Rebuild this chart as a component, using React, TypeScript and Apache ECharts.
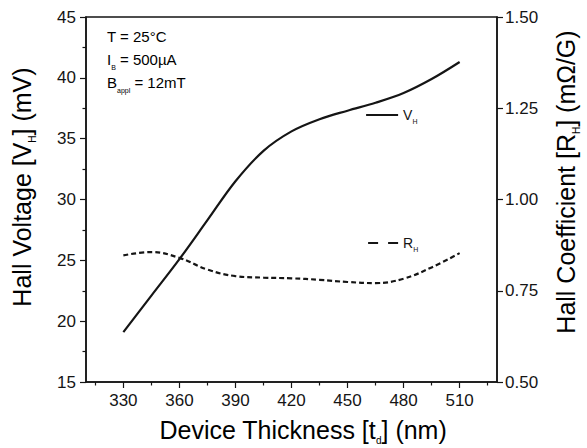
import React, { useEffect, useRef } from "react";
import * as echarts from "echarts";

// ---- data ----
const thickness = [330, 345, 360, 375, 390, 405, 420, 435, 450, 465, 480, 495, 510];
const hallVoltage = [19.1, 22.1, 25.1, 28.3, 31.5, 34.0, 35.6, 36.6, 37.3, 37.95, 38.75, 39.9, 41.3];
const hallCoefficient = [0.847, 0.856, 0.84, 0.808, 0.79, 0.786, 0.784, 0.78, 0.774, 0.771, 0.783, 0.814, 0.853];
const xMajorTicks = [330, 360, 390, 420, 450, 480, 510];
const xMinorTicks = [315, 345, 375, 405, 435, 465, 495, 525];
const conditions = ["T = 25°C", "I|B| = 500µA", "B|appl| = 12mT"];

const FONT = "'Liberation Sans', Arial, sans-serif";
const INK = "#151515";

function subRich(main: number, sub: number, lh: number) {
  return {
    m: { fontSize: main, fontFamily: FONT, color: INK, lineHeight: lh, verticalAlign: "middle" },
    s: { fontSize: sub, fontFamily: FONT, color: INK, lineHeight: lh, verticalAlign: "bottom" },
  };
}

function condText(s: string) {
  const parts = s.split("|");
  if (parts.length === 1) return `{m|${s}}`;
  return `{m|${parts[0]}}{s|${parts[1]}}{m|${parts[2]}}`;
}

export default function App() {
  const ref = useRef<HTMLDivElement>(null);
  useEffect(() => {
    if (!ref.current) return;
    const chart = echarts.init(ref.current, null, { renderer: "svg" });
    const vhData = thickness.map((t, i) => [t, hallVoltage[i]]);
    const rhData = thickness.map((t, i) => [t, hallCoefficient[i]]);
    const axisLine = { show: true, lineStyle: { color: INK, width: 1.5 } };
    const legendCommon = {
      orient: "horizontal",
      itemWidth: 32,
      itemHeight: 14,
      itemGap: 4,
      formatter: (n: string) => (n === "VH" ? "{m|V}{s|H}" : "{m|R}{s|H}"),
      textStyle: { rich: subRich(14, 7, 20) },
      itemStyle: { opacity: 0 },
    };
    chart.setOption({
      animation: false,
      grid: { left: 86, right: 90, top: 17, bottom: 66, show: true, borderColor: INK, borderWidth: 1.5 },
      xAxis: [
        {
          type: "value",
          position: "bottom",
          min: 310,
          max: 530,
          axisLine,
          axisTick: { show: true, inside: false, length: 6, customValues: xMajorTicks, lineStyle: { color: INK, width: 1.2 } },
          axisLabel: { customValues: xMajorTicks, fontSize: 17, fontFamily: FONT, color: INK, margin: 10 },
          splitLine: { show: false },
        },
        {
          type: "value",
          position: "bottom",
          min: 310,
          max: 530,
          axisLine: { show: false },
          axisTick: { show: true, inside: false, length: 3.5, customValues: xMinorTicks, lineStyle: { color: INK, width: 1.2 } },
          axisLabel: { show: false },
          splitLine: { show: false },
        },
      ],
      yAxis: [
        {
          type: "value",
          position: "left",
          min: 15,
          max: 45,
          interval: 5,
          axisLine,
          axisTick: { show: true, inside: false, length: 6, lineStyle: { color: INK, width: 1.2 } },
          minorTick: { show: true, splitNumber: 2, length: 3.5, lineStyle: { color: INK, width: 1.2 } },
          axisLabel: { fontSize: 17, fontFamily: FONT, color: INK, margin: 10 },
          splitLine: { show: false },
        },
        {
          type: "value",
          position: "right",
          min: 0.5,
          max: 1.5,
          interval: 0.25,
          axisLine,
          axisTick: { show: true, inside: false, length: 6, lineStyle: { color: INK, width: 1.2 } },
          axisLabel: {
            fontSize: 17,
            fontFamily: FONT,
            color: INK,
            margin: 8,
            formatter: (v: number) => v.toFixed(2),
          },
          splitLine: { show: false },
        },
      ],
      legend: [
        {
          ...legendCommon,
          data: ["VH"],
          left: 360,
          top: 103,
          lineStyle: { type: "solid", width: 2.2 },
        },
        {
          ...legendCommon,
          data: ["RH"],
          itemWidth: 30,
          left: 362,
          top: 231,
          lineStyle: { type: [10, 10], width: 2.2 },
        },
      ],
      series: [
        {
          name: "VH",
          type: "line",
          xAxisIndex: 0,
          yAxisIndex: 0,
          data: vhData,
          smooth: 0.35,
          symbol: "none",
          lineStyle: { color: INK, width: 2.2, type: "solid" },
          itemStyle: { color: INK },
        },
        {
          name: "RH",
          type: "line",
          xAxisIndex: 0,
          yAxisIndex: 1,
          data: rhData,
          smooth: 0.4,
          symbol: "none",
          lineStyle: { color: INK, width: 2.2, type: [5, 3] },
          itemStyle: { color: INK },
        },
      ],
      graphic: [
        ...conditions.map((c, i) => ({
          type: "text",
          left: 107,
          top: 29 + i * 23,
          style: { text: condText(c), rich: subRich(15, 7, 22) },
        })),
        {
          type: "text",
          x: 22,
          y: 187,
          rotation: Math.PI / 2,
          style: {
            text: "{m|Hall Voltage [V}{s|H}{m|] (mV)}",
            align: "center",
            verticalAlign: "middle",
            rich: subRich(25, 10, 30),
          },
        },
        {
          type: "text",
          x: 566,
          y: 182,
          rotation: Math.PI / 2,
          style: {
            text: "{m|Hall Coefficient [R}{s|H}{m|] (mΩ/G)}",
            align: "center",
            verticalAlign: "middle",
            rich: subRich(25, 10, 30),
          },
        },
        {
          type: "text",
          x: 303,
          y: 430,
          style: {
            text: "{m|Device Thickness [t}{s|d}{m|] (nm)}",
            align: "center",
            verticalAlign: "middle",
            rich: subRich(25, 10, 30),
          },
        },
      ],
    });
    return () => chart.dispose();
  }, []);
  return (
    <div
      ref={ref}
      style={{ position: "fixed", left: 0, top: 0, width: 587, height: 448, background: "#fff" }}
    />
  );
}
